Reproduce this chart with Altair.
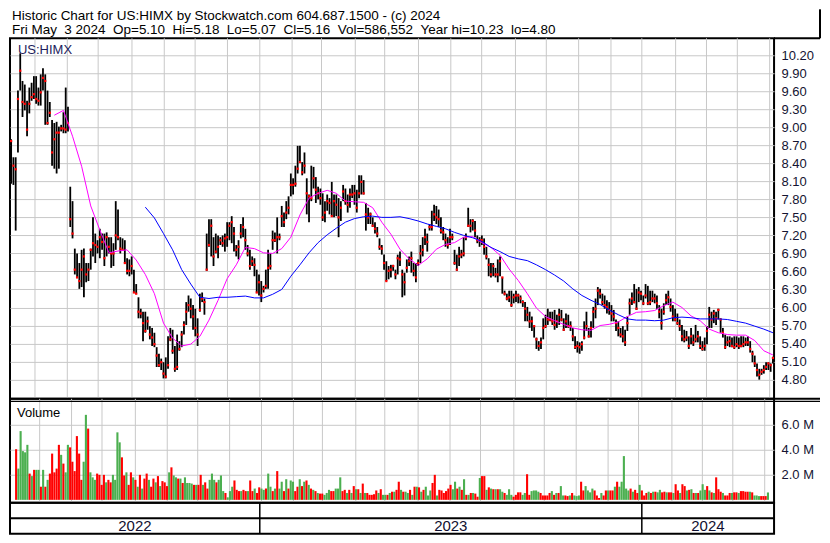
import altair as alt
import numpy as np
import pandas as pd

# ---------------- data ----------------
START, END = "2022-05-09", "2024-05-03"
HEADER_1 = "Historic Chart for US:HIMX by Stockwatch.com 604.687.1500 - (c) 2024"
HEADER_2 = "Fri May  3 2024  Op=5.10  Hi=5.18  Lo=5.07  Cl=5.16  Vol=586,552  Year hi=10.23  lo=4.80"
SYMBOL = "US:HIMX"
VOLUME_LABEL = "Volume"

HIGH = [
    8.80, 8.50, 8.50, 9.61, 10.23, 9.77, 9.71, 9.44, 9.66, 9.74,
    9.85, 9.85, 9.66, 9.88, 9.98, 9.88, 9.61, 9.42, 9.12, 9.07,
    9.09, 9.01, 9.04, 9.25, 9.66, 9.34, 8.01, 7.77, 6.98, 6.90,
    6.74, 6.96, 6.98, 6.74, 6.74, 6.98, 7.50, 7.23, 7.12, 7.31,
    7.23, 7.23, 7.25, 7.17, 7.17, 7.07, 7.77, 7.63, 7.17, 7.15,
    7.12, 6.82, 6.80, 6.85, 6.63, 6.39, 6.17, 5.98, 5.93, 5.93,
    5.85, 5.69, 5.66, 5.58, 5.34, 5.23, 5.15, 5.09, 5.17, 5.52,
    5.66, 5.63, 5.36, 5.55, 5.44, 5.61, 5.77, 6.09, 6.20, 6.15,
    6.04, 5.98, 5.82, 6.23, 6.25, 6.15, 7.23, 7.47, 7.47, 7.17,
    7.23, 7.20, 7.17, 7.20, 7.23, 7.42, 7.42, 7.52, 7.34, 7.04,
    7.12, 7.39, 7.50, 7.31, 7.04, 6.96, 6.85, 6.82, 6.63, 6.55,
    6.44, 6.36, 6.63, 6.96, 6.90, 7.28, 7.25, 7.50, 7.23, 7.69,
    7.58, 7.77, 7.85, 8.23, 8.15, 8.36, 8.69, 8.69, 8.42, 8.58,
    8.15, 7.88, 8.36, 8.34, 8.17, 8.01, 7.98, 7.90, 7.77, 7.88,
    7.82, 8.09, 7.88, 7.88, 7.82, 7.77, 8.04, 7.98, 7.88, 7.98,
    8.04, 8.04, 7.96, 8.20, 8.20, 8.12, 7.74, 7.66, 7.58, 7.50,
    7.42, 7.34, 7.15, 7.04, 6.88, 6.77, 6.69, 6.71, 6.71, 6.63,
    6.88, 6.93, 6.63, 6.58, 6.80, 6.85, 6.93, 6.74, 6.74, 6.80,
    7.04, 7.17, 7.31, 7.23, 7.39, 7.61, 7.71, 7.69, 7.63, 7.50,
    7.34, 7.23, 7.17, 7.31, 7.23, 6.96, 6.88, 7.01, 6.96, 7.17,
    7.23, 7.66, 7.47, 7.47, 7.44, 7.20, 7.17, 7.20, 7.15, 7.01,
    6.82, 6.74, 6.74, 6.66, 6.80, 6.85, 6.50, 6.28, 6.23, 6.28,
    6.28, 6.23, 6.28, 6.23, 6.20, 6.12, 6.09, 6.01, 5.93, 5.85,
    5.69, 5.50, 5.44, 5.50, 5.82, 5.88, 5.98, 5.93, 5.93, 5.96,
    5.88, 5.98, 5.96, 5.82, 5.90, 5.88, 5.77, 5.66, 5.52, 5.44,
    5.42, 5.44, 5.77, 5.93, 5.66, 5.77, 6.01, 6.15, 6.34, 6.31,
    6.23, 6.20, 6.12, 6.09, 6.04, 5.96, 5.80, 5.77, 5.66, 5.69,
    5.63, 5.85, 6.15, 6.25, 6.39, 6.31, 6.34, 6.28, 6.20, 6.39,
    6.36, 6.28, 6.28, 6.23, 6.20, 6.04, 5.98, 6.07, 6.23, 6.28,
    6.15, 6.04, 5.98, 5.90, 5.80, 5.71, 5.63, 5.61, 5.52, 5.66,
    5.55, 5.71, 5.61, 5.52, 5.44, 5.50, 5.69, 6.01, 5.93, 5.96,
    5.93, 5.98, 5.82, 5.66, 5.55, 5.52, 5.52, 5.50, 5.52, 5.52,
    5.50, 5.52, 5.52, 5.50, 5.52, 5.44, 5.28, 5.20, 5.07, 4.98,
    4.98, 5.04, 5.09, 5.09, 5.07, 5.18,
]
LOW = [
    8.06, 8.04, 7.28, 8.58, 9.61, 9.17, 9.28, 8.85, 9.23, 9.44,
    9.47, 9.39, 9.36, 9.36, 9.61, 9.04, 9.04, 9.17, 8.36, 8.31,
    8.23, 8.31, 8.93, 8.90, 8.90, 8.93, 7.34, 7.15, 6.55, 6.50,
    6.31, 6.34, 6.17, 6.42, 6.44, 6.63, 6.85, 6.74, 6.90, 6.82,
    6.96, 6.69, 6.85, 6.90, 6.66, 6.69, 6.96, 7.12, 6.90, 6.96,
    6.74, 6.55, 6.52, 6.55, 6.25, 6.23, 5.82, 5.82, 5.44, 5.58,
    5.63, 5.47, 5.36, 5.34, 5.01, 5.01, 4.96, 4.82, 4.82, 4.98,
    5.44, 5.23, 4.93, 4.96, 5.28, 5.34, 5.55, 5.71, 5.93, 5.82,
    5.63, 5.52, 5.36, 5.93, 6.09, 5.88, 6.61, 7.01, 6.85, 6.69,
    6.90, 6.82, 7.04, 7.01, 6.93, 7.01, 7.12, 7.07, 6.93, 6.85,
    6.80, 7.15, 7.17, 6.96, 6.85, 6.63, 6.69, 6.52, 6.25, 6.20,
    6.09, 6.25, 6.31, 6.31, 6.63, 6.96, 7.09, 6.90, 7.12, 7.34,
    7.34, 7.47, 7.55, 7.85, 7.88, 8.01, 8.23, 8.42, 8.20, 8.23,
    7.55, 7.42, 7.77, 7.98, 7.74, 7.80, 7.71, 7.44, 7.42, 7.61,
    7.55, 7.52, 7.50, 7.52, 7.17, 7.44, 7.77, 7.71, 7.58, 7.66,
    7.82, 7.71, 7.58, 7.82, 7.88, 7.88, 7.28, 7.39, 7.39, 7.34,
    7.23, 7.17, 6.96, 6.88, 6.63, 6.44, 6.47, 6.50, 6.61, 6.47,
    6.55, 6.69, 6.17, 6.20, 6.58, 6.69, 6.58, 6.52, 6.42, 6.69,
    6.74, 6.85, 7.04, 6.93, 7.28, 7.28, 7.44, 7.39, 7.34, 7.23,
    7.12, 7.01, 6.98, 7.04, 7.12, 6.71, 6.61, 6.69, 6.82, 6.85,
    7.12, 7.34, 7.25, 7.28, 7.17, 7.07, 7.01, 7.04, 6.88, 6.80,
    6.52, 6.50, 6.52, 6.50, 6.42, 6.52, 6.23, 6.20, 6.12, 6.09,
    6.01, 6.07, 6.09, 6.07, 6.07, 6.01, 5.77, 5.77, 5.66, 5.61,
    5.50, 5.31, 5.28, 5.31, 5.47, 5.66, 5.71, 5.77, 5.71, 5.63,
    5.66, 5.71, 5.77, 5.61, 5.66, 5.66, 5.61, 5.44, 5.31, 5.25,
    5.23, 5.28, 5.47, 5.61, 5.50, 5.50, 5.66, 5.82, 6.04, 6.15,
    6.04, 5.98, 5.90, 5.88, 5.77, 5.77, 5.61, 5.52, 5.50, 5.42,
    5.36, 5.61, 5.88, 6.04, 6.07, 5.96, 6.09, 6.12, 6.04, 6.15,
    6.04, 6.04, 6.09, 6.07, 5.98, 5.82, 5.63, 5.88, 6.04, 6.04,
    5.93, 5.77, 5.77, 5.71, 5.61, 5.44, 5.42, 5.44, 5.31, 5.39,
    5.36, 5.42, 5.42, 5.31, 5.28, 5.28, 5.39, 5.66, 5.66, 5.74,
    5.71, 5.80, 5.58, 5.50, 5.31, 5.36, 5.34, 5.34, 5.31, 5.34,
    5.31, 5.34, 5.34, 5.36, 5.36, 5.25, 5.09, 5.01, 4.85, 4.80,
    4.88, 4.90, 4.96, 4.96, 4.93, 5.07,
]
CLOSE = [
    8.77, 8.36, 8.30, 9.47, 9.94, 9.42, 9.39, 8.96, 9.39, 9.50,
    9.55, 9.47, 9.44, 9.58, 9.82, 9.77, 9.07, 9.24, 8.58, 8.80,
    8.91, 8.91, 8.98, 8.98, 8.96, 9.07, 7.47, 7.23, 6.63, 6.50,
    6.44, 6.63, 6.85, 6.55, 6.63, 6.96, 7.07, 7.04, 7.01, 7.17,
    7.09, 6.82, 7.17, 7.01, 6.90, 6.90, 7.20, 7.17, 6.98, 6.96,
    6.74, 6.61, 6.61, 6.69, 6.25, 6.23, 5.93, 5.90, 5.74, 5.61,
    5.77, 5.55, 5.50, 5.39, 5.20, 5.04, 5.09, 4.90, 4.85, 5.04,
    5.47, 5.28, 4.98, 5.01, 5.31, 5.55, 5.71, 5.93, 6.04, 5.98,
    5.85, 5.66, 5.55, 5.96, 6.15, 6.09, 6.63, 7.04, 7.36, 6.85,
    6.93, 7.01, 7.12, 7.07, 7.15, 7.17, 7.36, 7.42, 7.23, 6.96,
    7.01, 7.23, 7.34, 7.12, 6.90, 6.69, 6.77, 6.71, 6.25, 6.42,
    6.20, 6.31, 6.36, 6.66, 6.69, 7.12, 7.12, 7.17, 7.17, 7.52,
    7.42, 7.58, 7.66, 8.04, 8.04, 8.06, 8.31, 8.42, 8.25, 8.36,
    7.90, 7.85, 7.82, 8.15, 7.96, 7.90, 7.82, 7.50, 7.58, 7.77,
    7.74, 7.52, 7.77, 7.71, 7.50, 7.66, 7.93, 7.77, 7.71, 7.88,
    7.88, 7.90, 7.66, 7.90, 8.09, 7.90, 7.55, 7.50, 7.55, 7.36,
    7.31, 7.23, 7.01, 6.98, 6.74, 6.44, 6.61, 6.63, 6.69, 6.55,
    6.82, 6.80, 6.55, 6.42, 6.66, 6.77, 6.82, 6.61, 6.50, 6.74,
    6.90, 6.96, 7.17, 7.09, 7.34, 7.34, 7.55, 7.50, 7.47, 7.28,
    7.25, 7.12, 7.04, 7.17, 7.17, 6.74, 6.63, 6.85, 6.88, 6.90,
    7.17, 7.36, 7.36, 7.44, 7.28, 7.12, 7.12, 7.12, 7.01, 6.85,
    6.71, 6.55, 6.69, 6.55, 6.55, 6.77, 6.50, 6.23, 6.15, 6.17,
    6.04, 6.17, 6.20, 6.20, 6.15, 6.09, 5.98, 5.88, 5.77, 5.77,
    5.69, 5.47, 5.36, 5.42, 5.66, 5.69, 5.80, 5.80, 5.77, 5.71,
    5.77, 5.88, 5.80, 5.63, 5.77, 5.69, 5.69, 5.52, 5.34, 5.36,
    5.34, 5.39, 5.50, 5.69, 5.52, 5.66, 5.93, 5.98, 6.28, 6.23,
    6.09, 6.04, 6.01, 5.96, 5.90, 5.85, 5.74, 5.66, 5.55, 5.52,
    5.42, 5.74, 6.07, 6.15, 6.09, 5.98, 6.25, 6.23, 6.07, 6.20,
    6.07, 6.09, 6.15, 6.15, 6.07, 5.93, 5.74, 5.93, 6.12, 6.17,
    6.01, 5.85, 5.80, 5.74, 5.69, 5.52, 5.47, 5.50, 5.36, 5.52,
    5.42, 5.47, 5.52, 5.36, 5.31, 5.36, 5.61, 5.88, 5.80, 5.90,
    5.82, 5.96, 5.80, 5.58, 5.34, 5.42, 5.44, 5.36, 5.34, 5.39,
    5.36, 5.36, 5.39, 5.42, 5.42, 5.31, 5.23, 5.07, 4.96, 4.88,
    4.93, 4.96, 5.01, 5.07, 5.04, 5.16,
]

# moving averages as drawn (magenta = short, blue = long), one value every MA_STEP bars
MA_STEP = 4
MA_FAST_FIRST_BAR = 19
MA_FAST = [
    9.20, 9.28, 8.85, 8.35, 7.69, 7.29, 6.91, 6.94, 6.96, 6.79,
    6.55, 6.23, 5.74, 5.49, 5.36, 5.39, 5.52, 5.79, 6.12, 6.48,
    6.71, 7.00, 6.98, 6.91, 6.90, 6.98, 7.17, 7.54, 7.82, 7.90,
    7.95, 7.90, 7.77, 7.76, 7.75, 7.66, 7.42, 7.22, 6.97, 6.81,
    6.70, 6.81, 6.97, 7.05, 7.08, 7.17, 7.18, 7.08, 7.00, 6.87,
    6.64, 6.45, 6.23, 5.99, 5.85, 5.78, 5.72, 5.66, 5.63, 5.62,
    5.70, 5.72, 5.76, 5.85, 5.92, 5.93, 5.95, 6.03, 6.09, 6.00,
    5.86, 5.78, 5.64, 5.58, 5.55, 5.54, 5.54, 5.45, 5.28, 5.21,
]
MA_SLOW_FIRST_BAR = 59
MA_SLOW = [
    7.67, 7.49, 7.23, 6.96, 6.63, 6.39, 6.17, 6.15, 6.17, 6.17,
    6.18, 6.19, 6.16, 6.16, 6.22, 6.30, 6.52, 6.71, 6.91, 7.08,
    7.21, 7.32, 7.42, 7.48, 7.51, 7.52, 7.50, 7.50, 7.51, 7.48,
    7.44, 7.39, 7.35, 7.31, 7.25, 7.20, 7.16, 7.10, 7.00, 6.93,
    6.85, 6.81, 6.78, 6.71, 6.63, 6.54, 6.44, 6.31, 6.20, 6.12,
    6.05, 5.96, 5.88, 5.81, 5.79, 5.79, 5.78, 5.79, 5.83, 5.84,
    5.83, 5.81, 5.81, 5.81, 5.80, 5.77, 5.74, 5.69, 5.64, 5.58,
]

VOLUME_M = [
    4.05, 2.5, 5.5, 3.9, 3.8, 4.4, 2.1, 1.9, 2.4, 2.4,
    2.4, 1.05, 2.4, 1.05, 1.6, 2.1, 3.7, 2.2, 2.5, 4.4,
    3.6, 2.9, 2.2, 4.4, 4.2, 3.05, 2.3, 5.1, 3.7, 1.6,
    3.05, 6.8, 5.7, 2.2, 1.8, 1.6, 2.1, 2.0, 1.2, 2.0,
    1.4, 1.6, 1.4, 2.0, 1.6, 5.4, 4.6, 3.4, 1.95, 2.2,
    1.2, 2.2, 1.8, 1.6, 1.05, 2.0, 0.9, 1.7, 2.1, 1.6,
    1.05,
    1.7, 1.4, 1.9, 1.1, 1.5, 1.4, 1.1, 2.2, 2.6, 1.95,
    1.8, 1.7, 1.7, 1.35, 1.8, 1.35, 1.35, 1.3, 1.2, 1.2,
    1.2, 2.0, 1.2, 1.4, 0.9, 1.6, 2.1, 1.6, 1.4, 1.6,
    1.95, 0.7, 0.55, 0.2, 0.7, 1.05, 1.55, 0.8, 0.7, 0.7,
    0.8, 0.7, 0.7, 1.55, 0.7, 0.9, 0.55, 1.0, 0.9, 0.8,
    0.9, 2.1, 1.05, 0.7, 0.9, 2.3, 0.9, 1.45, 0.7, 1.65,
    0.9, 1.55, 1.45, 0.7, 1.05, 1.65, 1.1, 1.45, 1.55, 1.2,
    0.9, 0.8, 0.7, 0.55, 0.5, 0.5, 0.4, 0.55, 0.8, 0.7,
    0.7, 0.9, 0.9, 1.8, 0.7, 0.8, 0.55, 0.8, 0.55, 1.1,
    0.85, 0.85, 0.55, 1.3, 0.55, 0.55, 0.4, 0.4, 0.45, 0.75,
    0.55, 0.85, 0.4, 0.4, 0.4, 0.55, 0.65, 0.65, 0.8, 1.45,
    0.8, 0.65, 0.65, 0.55, 0.8, 0.4, 1.05, 1.05,
    1.0, 0.65, 0.8, 1.05, 0.35, 0.75, 1.35, 2.0, 0.35, 0.8,
    0.75, 0.55, 0.7, 0.9, 1.2, 0.85, 1.45, 0.9, 1.05, 0.8,
    1.65, 0.4, 0.4, 0.55, 0.55, 0.5, 0.25, 1.75, 1.9, 1.9,
    0.8, 1.0, 0.9, 0.85, 0.85, 0.85, 0.85, 0.65, 0.55, 0.4,
    0.85, 0.4, 0.25, 0.4, 0.6, 0.6, 0.4, 0.55, 2.05, 0.4,
    0.7, 0.75, 0.75, 0.65, 0.55, 0.35, 0.35, 0.35, 0.55, 0.7,
    0.4, 0.55, 0.55, 1.1, 0.35, 0.35, 0.3, 0.35, 0.55, 0.35,
    0.3, 0.35, 1.45, 0.75, 1.1, 0.75, 0.6, 0.9, 0.75, 0.35,
    0.15, 0.55, 0.35, 0.75, 0.75, 0.75, 0.75, 1.05, 1.45, 1.05,
    1.45, 3.5, 0.9, 0.75, 0.9, 0.65, 0.8, 0.55, 1.2, 0.75,
    0.35, 0.55, 0.65, 0.55, 0.65, 0.65, 0.6, 0.8, 0.6, 0.65,
    0.6, 0.6, 0.6, 0.55, 1.25, 0.75, 0.55, 1.25, 1.1, 0.75,
    0.8, 0.85, 0.55, 0.55, 0.55, 0.75, 1.25, 0.8, 1.1, 0.75,
    0.6, 0.55, 1.8, 0.85, 0.65, 0.55, 0.35, 0.35, 0.55, 0.55,
    0.6, 0.6, 0.55, 0.7, 0.7, 0.65, 0.65, 0.65, 0.6, 0.35,
    0.35, 0.3, 0.3, 0.3, 0.3, 0.59,
]
# g = up day (green bar), r = down day (red bar)
VOLUME_DIR = (
    "rgggggrgrg" "grgrgrrrrr" "grggrrrrrr" "ggrgggrrrr" "grrggggrrg" "rrgrgrgrrg" "r"
    "rgrgrrrgrg" "grgrggggrg" "rrgrrgggrg" "ggrgggrrrg" "rrgrrgrrgg" "rggrgrggrg"
    "rggrrgrgrg" "rgrgrrgggr" "rgggrrgrgr" "grgrgrrrrr" "grggrgrgrr" "grggrgrg"
    "rgrgggrrgr" "rrrrrggrgr" "grgrgrrgrr" "grgrgrggrg" "ggrrrrggrr" "ggggrrrrrg"
    "rgrggrrgrg" "ggrrggggrr" "rgrrgrrgrg" "ggggrgrrgr" "rrgrgrggrr" "grrgrrgrrg"
    "rgrgrgggrg" "rgrrrgrrrg" "rrgrrrrgrg" "ggrrrg"
)

PRICE_TICKS = [4.80, 5.10, 5.40, 5.70, 6.00, 6.30, 6.60, 6.90, 7.20, 7.50,
               7.80, 8.10, 8.40, 8.70, 9.00, 9.30, 9.60, 9.90, 10.20]
VOLUME_TICKS = [2.0, 4.0, 6.0]

assert len(HIGH) == len(LOW) == len(CLOSE)
assert len(VOLUME_M) == len(VOLUME_DIR)

# ---------------- layout / style ----------------
W = 765
H_HEAD, H_PRICE, H_VOL, H_YEAR = 29, 361, 104, 31
RIGHT_EXT = 46
FONT = "Liberation Sans, Arial, sans-serif"
NARROW = "Liberation Sans Narrow, Arial Narrow, Liberation Sans, Arial, sans-serif"
GRID = "#c8c8c8"
LABEL_C = "#141432"

# ---------------- derived tables ----------------
days = pd.bdate_range(START, END)
T = len(days)
month_t = [i for i in range(1, T) if days[i].month != days[i - 1].month]
year_t = [i for i in range(1, T) if days[i].year != days[i - 1].year]
edges = [0] + year_t + [T]
year_df = pd.DataFrame({
    "t": [(edges[k] + edges[k + 1]) / 2 for k in range(len(edges) - 1)],
    "year": [str(days[edges[k]].year) for k in range(len(edges) - 1)],
})
month_df = pd.DataFrame({"t": month_t})
ydiv_df = pd.DataFrame({"t": year_t})

NP, NV = len(CLOSE), len(VOLUME_M)
price_df = pd.DataFrame({"t": (np.arange(NP) + 0.5) * T / NP,
                         "high": HIGH, "low": LOW, "close": CLOSE})
fast_df = pd.DataFrame({"t": (MA_FAST_FIRST_BAR + MA_STEP * np.arange(len(MA_FAST)) + 0.5) * T / NP,
                        "ma": MA_FAST})
slow_df = pd.DataFrame({"t": (MA_SLOW_FIRST_BAR + MA_STEP * np.arange(len(MA_SLOW)) + 0.5) * T / NP,
                        "ma": MA_SLOW})
vol_df = pd.DataFrame({"t": (np.arange(NV) + 0.5) * T / NV, "vol": VOLUME_M,
                       "dir": ["up" if c == "g" else "down" for c in VOLUME_DIR]})
one = pd.DataFrame({"a": [0]})

XS = alt.Scale(domain=[0, T], nice=False, zero=False)


def X():
    return alt.X("t:Q", scale=XS, axis=None)


# ---------------- header ----------------
def nb(s):
    return s.replace("  ", " \u00a0")


hdr_txt = pd.DataFrame({"s": [nb(HEADER_1)]})
hdr_txt2 = pd.DataFrame({"s": [nb(HEADER_2)]})
header = alt.layer(
    alt.Chart(hdr_txt).mark_text(align="left", baseline="middle", font=FONT, fontSize=13.5, color="black")
    .encode(x=alt.value(2), y=alt.value(6.5), text="s:N"),
    alt.Chart(hdr_txt2).mark_text(align="left", baseline="middle", font=FONT, fontSize=13.5, color="black")
    .encode(x=alt.value(2), y=alt.value(20.5), text="s:N"),
    alt.Chart(one).mark_rule(color="black", strokeWidth=2)
    .encode(x=alt.value(W + RIGHT_EXT), y=alt.value(0), y2=alt.value(H_HEAD)),
).properties(width=W, height=H_HEAD, view=alt.ViewBackground(strokeOpacity=0, strokeWidth=0))

# ---------------- price panel ----------------
PS = alt.Scale(domain=[4.48, 10.48], nice=False, zero=False)
PAXIS = alt.Axis(orient="right", values=PRICE_TICKS, format=".2f", grid=True, gridColor=GRID,
                 gridWidth=1, ticks=False, domain=False, labelFont=FONT, labelFontSize=13,
                 labelColor=LABEL_C, labelPadding=7, labelOverlap=False, title=None)


def YP(f):
    return alt.Y(f, type="quantitative", scale=PS, axis=PAXIS)


price = alt.layer(
    alt.Chart(month_df).mark_rule(color=GRID, strokeWidth=1).encode(x=X()),
    alt.Chart(price_df).mark_rule(color="black", strokeWidth=1.8).encode(x=X(), y=YP("low"), y2="high:Q"),
    alt.Chart(price_df).mark_square(size=5, color="#ff0000", opacity=1).encode(x=X(), y=YP("close")),
    alt.Chart(fast_df).mark_line(color="#ff00ff", strokeWidth=1).encode(x=X(), y=YP("ma")),
    alt.Chart(slow_df).mark_line(color="#0000ff", strokeWidth=1).encode(x=X(), y=YP("ma")),
    alt.Chart(pd.DataFrame({"s": [SYMBOL]})).mark_text(align="left", baseline="middle", font=FONT,
                                                      fontSize=13, color="#1c1c5c")
    .encode(x=alt.value(8), y=alt.value(12), text="s:N"),
    alt.Chart(one).mark_rule(color="black", strokeWidth=2)
    .encode(x=alt.value(W), x2=alt.value(W + RIGHT_EXT), y=alt.value(0)),
).properties(width=W, height=H_PRICE)

# ---------------- volume panel ----------------
VS = alt.Scale(domain=[-0.23, 8.08], nice=False, zero=False)
VAXIS = alt.Axis(orient="right", values=VOLUME_TICKS, labelExpr="format(datum.value, '.1f') + ' M'",
                 grid=True, gridColor=GRID, gridWidth=1, ticks=False, domain=False, labelFont=FONT,
                 labelFontSize=13, labelColor=LABEL_C, labelPadding=7, title=None)

volume = alt.layer(
    alt.Chart(month_df).mark_rule(color=GRID, strokeWidth=1).encode(x=X()),
    alt.Chart(vol_df).mark_bar(size=2.1).encode(
        x=X(), y=alt.Y("vol:Q", scale=VS, axis=VAXIS), y2=alt.value(H_VOL),
        color=alt.Color("dir:N", scale=alt.Scale(domain=["up", "down"], range=["#4caf50", "#ff0000"]),
                        legend=None)),
    alt.Chart(pd.DataFrame({"s": [VOLUME_LABEL]})).mark_text(align="left", baseline="middle", font=FONT,
                                                            fontSize=13, color="black")
    .encode(x=alt.value(7), y=alt.value(14), text="s:N"),
    # separator: border shared with the price panel, plus a second thin line below it
    alt.Chart(one).mark_rule(color="black", strokeWidth=2)
    .encode(x=alt.value(W), x2=alt.value(W + RIGHT_EXT), y=alt.value(0)),
    alt.Chart(one).mark_rule(color="black", strokeWidth=1.2)
    .encode(x=alt.value(0), x2=alt.value(W + RIGHT_EXT), y=alt.value(2.6)),
).properties(width=W, height=H_VOL)

# ---------------- year band ----------------
years = alt.layer(
    alt.Chart(one).mark_rule(color="black", strokeWidth=2)
    .encode(x=alt.value(0), x2=alt.value(W), y=alt.value(15.5)),
    alt.Chart(ydiv_df).mark_rule(color="black", strokeWidth=1.5).encode(x=X()),
    alt.Chart(year_df).mark_text(font=NARROW, fontSize=15, baseline="middle", align="center", color="#101030")
    .encode(x=X(), y=alt.value(23.5), text="year:N"),
).properties(width=W, height=H_YEAR)

chart = alt.vconcat(
    header, price, volume, years,
    spacing=0,
    bounds="flush",
).properties(padding=0, background="white").configure_view(stroke="black", strokeWidth=2)

chart.save("out.html", embed_options={"renderer": "svg", "actions": False})
